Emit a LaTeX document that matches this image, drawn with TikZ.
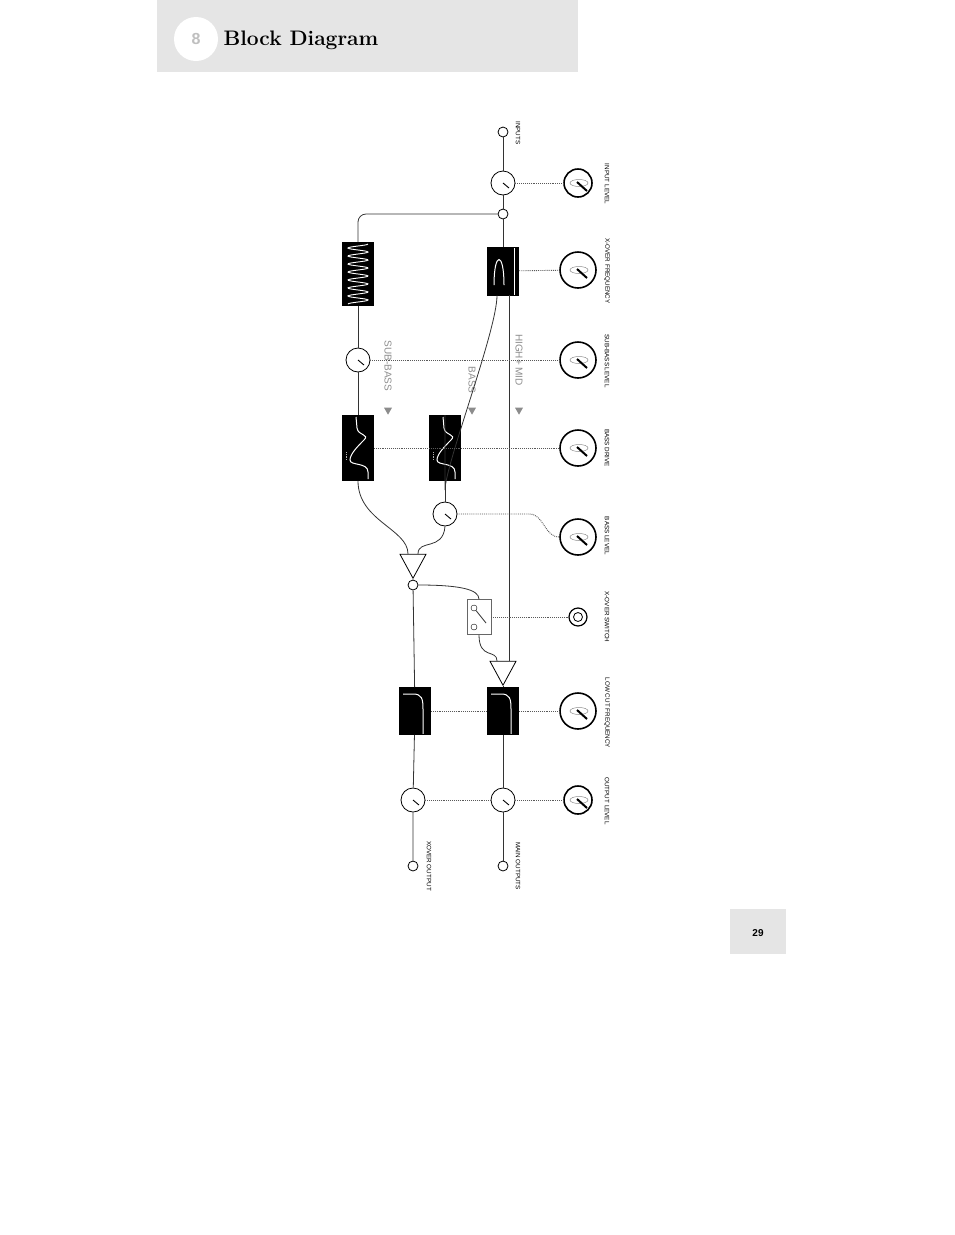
\documentclass[tikz,border=0pt]{standalone}
\usepackage{fontspec}
\setsansfont{Liberation Sans}
\usetikzlibrary{shapes.geometric}

\begin{document}
\begin{tikzpicture}
	[%
	x=1pt, y=-1pt,
	wire/.style   ={line width=0.8pt, black!80},%
	ctrl/.style   ={densely dotted, line width=0.9pt, black!65},%
	jack/.style   ={circle, draw, line width=0.8pt, inner sep=0pt, minimum size=10},%
	pot/.style    ={circle, draw, line width=0.8pt, inner sep=0pt, minimum size=24,
	                path picture={\draw[line width=0.9pt] (path picture bounding box.center) -- +(6,5);}},%
	knob/.style   ={circle, draw, line width=1.6pt, inner sep=0pt, minimum size=#1,
	                path picture={\begin{scope}[shift={(path picture bounding box.center)}]
	                  \draw[black!45, line width=0.5pt, rotate=40] (1,0) ellipse [x radius=9, y radius=3.5];
	                  \draw[line width=2pt] (-1,-1) -- (9,8);
	                \end{scope}}},%
	knob/.default=30,%
	filt/.style   ={rectangle, draw, fill=black, line width=0.8pt, inner sep=0pt, minimum width=31, minimum height=#1},%
	amp/.style    ={isosceles triangle, shape border rotate=270, draw, fill=white, line width=0.8pt,
	                inner sep=0pt, minimum width=26, minimum height=24, isosceles triangle stretches},%
	lbl/.style    ={rotate=-90, font=\sffamily\fontsize{6.3}{6.3}\selectfont},%
	band/.style   ={rotate=-90, font=\sffamily\fontsize{10}{10}\selectfont, text=black!45},%
	bandmark/.style={isosceles triangle, shape border rotate=270, fill=black!45, inner sep=0pt,
	                minimum width=8, minimum height=7, isosceles triangle stretches},%
	]
	\useasboundingbox (0,0) rectangle (954,1235);

	% header and page number
	\fill[black!10] (157,0) rectangle (578,72);
	\node (chap) [circle, fill=white, minimum size=44, inner sep=0pt, text=black!25,
	      font=\sffamily\bfseries\fontsize{16}{16}\selectfont] at (196,39) {8};
	\node (title) [anchor=west, font=\bfseries\fontsize{21}{21}\selectfont] at (220,40) {Block Diagram};
	\fill[black!10] (730,909) rectangle (786,954);
	\node (page) [font=\sffamily\bfseries\fontsize{10}{10}\selectfont] at (758,933) {29};

	% signal nodes
	\node (in)      at (503,132) [jack] {};
	\node (inpot)   at (503,183) [pot] {};
	\node (split)   at (503,214) [jack] {};
	\node (xover)   at (503,271) [filt=48, path picture={
	        \draw[white, line width=1pt] ([shift={(-9,14)}]path picture bounding box.center)
	              .. controls +(0,-34) and +(0,-34) .. +(10,0);
	        \draw[white, line width=1pt] ([shift={(11,-24)}]path picture bounding box.center) -- +(0,48);}] {};
	\node (osc)     at (358,274) [filt=63, path picture={
	        \draw[white, line width=0.9pt, shift={(path picture bounding box.center)}]
	              plot[domain=-30:30, samples=120, smooth] ({10*sin(\x*45)}, \x);}] {};
	\node (subpot)  at (358,360) [pot] {};
	\node (subdrv)  at (358,448) [filt=65, path picture={
	        \draw[white, line width=1pt, shift={(path picture bounding box.center)}]
	              (-2,-31) -- (-1,-20) .. controls (0,-12) and (12,-14) .. (6,-8)
	              .. controls (0,-2) and (-8,6) .. (-8,12) .. controls (-8,18) and (10,14) .. (10,24) -- (10,31);
	        \draw[white!70!black, densely dotted, shift={(path picture bounding box.center)}] (-12,4) -- (-12,12);}] {};
	\node (bassdrv) at (445,448) [filt=65, path picture={
	        \draw[white, line width=1pt, shift={(path picture bounding box.center)}]
	              (-2,-31) -- (-1,-20) .. controls (0,-12) and (12,-14) .. (6,-8)
	              .. controls (0,-2) and (-8,6) .. (-8,12) .. controls (-8,18) and (10,14) .. (10,24) -- (10,31);
	        \draw[white!70!black, densely dotted, shift={(path picture bounding box.center)}] (-12,4) -- (-12,12);}] {};
	\node (basspot) at (445,514) [pot] {};
	\node (sum)     at (413,562) [amp] {};
	\node (sumj)    at (413,585) [jack] {};
	\node (sw)      at (479,617) [rectangle, draw=black!60, fill=white, line width=0.8pt,
	                              minimum width=24, minimum height=35, inner sep=0pt] {};
	\node (swa)     at (474,608) [circle, draw, inner sep=0pt, minimum size=6] {};
	\node (swb)     at (474,627) [circle, draw, inner sep=0pt, minimum size=6] {};
	\node (main)    at (503,669) [amp] {};
	\node (xlc)     at (415,711) [filt=47, path picture={
	        \draw[white, line width=1pt, shift={(path picture bounding box.center)}]
	              (-12,-17) -- (-2,-17) .. controls (7,-17) and (8,-12) .. (8,-2) -- (8,24);}] {};
	\node (mlc)     at (503,711) [filt=47, path picture={
	        \draw[white, line width=1pt, shift={(path picture bounding box.center)}]
	              (-12,-17) -- (-2,-17) .. controls (7,-17) and (8,-12) .. (8,-2) -- (8,24);}] {};
	\node (xpot)    at (413,800) [pot] {};
	\node (mpot)    at (503,800) [pot] {};
	\node (xout)    at (413,866) [jack] {};
	\node (mout)    at (503,866) [jack] {};

	% control knobs
	\node (k1) at (578,183) [knob=28] {};
	\node (k2) at (578,270) [knob=36] {};
	\node (k3) at (578,360) [knob=36] {};
	\node (k4) at (578,448) [knob=36] {};
	\node (k5) at (578,537) [knob=36] {};
	\node (k6) at (578,617) [circle, draw, line width=1.2pt, minimum size=18, inner sep=0pt] {};
	\node (k6i) at (578,617) [circle, draw, line width=0.8pt, minimum size=9, inner sep=0pt] {};
	\node (k7) at (578,711) [knob=36] {};
	\node (k8) at (578,800) [knob=28] {};

	% labels
	\node (tin)  at (518,133) [lbl] {INPUTS};
	\node (t1)   at (607,184) [lbl] {INPUT LEVEL};
	\node (t2)   at (607,271) [lbl] {X-OVER FREQUENCY};
	\node (t3)   at (607,361) [lbl] {SUB-BASS LEVEL};
	\node (t4)   at (607,448) [lbl] {BASS DRIVE};
	\node (t5)   at (607,536) [lbl] {BASS LEVEL};
	\node (t6)   at (607,617) [lbl] {X-OVER SWITCH};
	\node (t7)   at (607,713) [lbl] {LOW CUT FREQUENCY};
	\node (t8)   at (607,801) [lbl] {OUTPUT LEVEL};
	\node (txo)  at (429,866) [lbl] {XOVER OUTPUT};
	\node (tmo)  at (518,866) [lbl] {MAIN OUTPUTS};

	\node (bsub) at (388,366) [band] {SUB-BASS};
	\node (bbas) at (472,380) [band] {BASS};
	\node (bhm)  at (519,360) [band] {HIGH+ MID};
	\foreach \x in {388,472,519} \node (m\x) at (\x,410) [bandmark] {};

	% signal wires
	\draw [wire] (in) -- (inpot) -- (split) -- (xover);
	\draw [wire, rounded corners=8] (split.west) -| (osc.north);
	\draw [wire] (osc) -- (subpot) -- (subdrv);
	\draw [wire] ([xshift=-6]xover.south) .. controls +(0,35) and +(0,-25) .. ([yshift=-75]bassdrv.north) -- (bassdrv.north);
	\draw [wire] ([xshift=6]xover.south) -- ([xshift=6]main.north);
	\draw [wire] (bassdrv) -- (basspot);
	\draw [wire] (subdrv.south) .. controls +(0,40) and +(0,-25) .. ([xshift=-5]sum.north);
	\draw [wire] (basspot.south) .. controls +(-2,25) and +(0,-15) .. ([xshift=5]sum.north);
	\draw [wire] (sum.apex) -- (sumj) -- (xlc) -- (xpot) -- (xout);
	\draw [wire] (sumj.east) .. controls +(40,0) and +(0,-10) .. (sw.north);
	\draw [wire] (swa) -- (486,623);
	\draw [wire] (sw.south) .. controls +(0,25) and +(0,-12) .. ([xshift=-6]main.north);
	\draw [wire] (main.apex) -- (mlc) -- (mpot) -- (mout);

	% control links
	\draw [ctrl] (inpot) -- (k1);
	\draw [ctrl] (xover) -- (k2);
	\draw [ctrl] (subpot) -- (k3);
	\draw [ctrl] (subdrv) -- (k4);
	\draw [ctrl] (basspot.east) -- ([xshift=-30]k5.west |- basspot.east) .. controls +(15,0) and +(-15,0) .. (k5.west);
	\draw [ctrl] (sw) -- (k6);
	\draw [ctrl] (xlc) -- (mlc) -- (k7);
	\draw [ctrl] (xpot) -- (mpot) -- (k8);
\end{tikzpicture}
\end{document}
